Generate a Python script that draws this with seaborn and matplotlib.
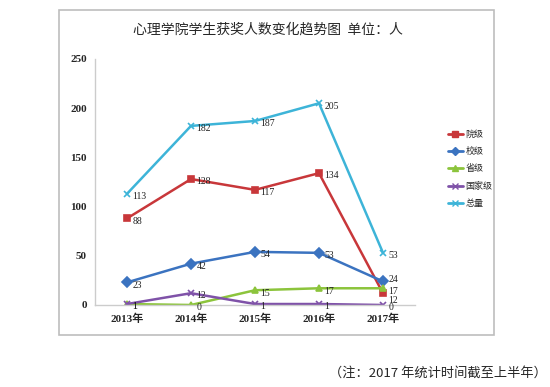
import pandas as pd
import matplotlib.pyplot as plt
import seaborn as sns
from matplotlib.patches import Rectangle
from matplotlib.lines import Line2D

years = ['2013年', '2014年', '2015年', '2016年', '2017年']
yuanji = [88, 128, 117, 134, 12]
xiaoji = [23, 42, 54, 53, 24]
shengji = [1, 0, 15, 17, 17]
guojiaji = [1, 12, 1, 1, 0]
zongliang = [113, 182, 187, 205, 53]

series = {'院级': yuanji, '校级': xiaoji, '省级': shengji, '国家级': guojiaji, '总量': zongliang}
colors = {'院级': '#C8373A', '校级': '#3B73C0', '省级': '#8CC43C', '国家级': '#7F52A8', '总量': '#3DB4D8'}
markers = {'院级': 's', '校级': 'D', '省级': '^', '国家级': 'x', '总量': 'x'}

sns.set_style('white')
serif = ['Liberation Serif', 'Noto Sans CJK SC']
cjk = ['Noto Sans CJK SC', 'DejaVu Sans']
plt.rcParams['font.family'] = cjk

fig = plt.figure(figsize=(5.5, 3.87), dpi=100)
ax = fig.add_axes([95 / 550, 1 - 305 / 387, 320 / 550, 246 / 387])

# outer frame of the chart area
fig.patches.append(Rectangle((59 / 550, 1 - 335 / 387), 435 / 550, 325 / 387,
                             transform=fig.transFigure, fill=False,
                             edgecolor='#BDBDBD', linewidth=1.2))

for name, vals in series.items():
    d = pd.DataFrame({'年份': range(len(vals)), '人数': vals})
    sns.lineplot(data=d, x='年份', y='人数', color=colors[name], marker=markers[name],
                 markersize=5, markeredgecolor=colors[name], markeredgewidth=1.2,
                 linewidth=1.8, ax=ax)

# small nudges so the crowded 2017 labels stay readable
nudge = {('校级', 4): 3, ('院级', 4): -3}
for name, vals in series.items():
    for i, v in enumerate(vals):
        dy = nudge.get((name, i), 0)
        ax.annotate(str(v), (i, v), xytext=(4, -2 + dy), textcoords='offset points',
                    fontsize=7, family=serif, color='#222222', va='center', ha='left')

ax.set_xlim(-0.5, 4.5)
ax.set_ylim(0, 250)
ax.set_xticks(range(5))
ax.set_xticklabels(years, family=serif, fontsize=8, fontweight='bold')
ax.set_yticks([0, 50, 100, 150, 200, 250])
ax.set_yticklabels(['0', '50', '100', '150', '200', '250'], family=serif,
                   fontsize=8, fontweight='bold')
ax.tick_params(axis='y', length=3, color='#BBBBBB', pad=3)
ax.tick_params(axis='x', length=0, pad=6)
ax.set_xlabel('')
ax.set_ylabel('')
for s in ['top', 'right']:
    ax.spines[s].set_visible(False)
for s in ['left', 'bottom']:
    ax.spines[s].set_color('#CCCCCC')
    ax.spines[s].set_linewidth(1)

handles = [Line2D([], [], color=colors[n], marker=markers[n], markersize=4,
                  markeredgecolor=colors[n], linewidth=2) for n in series]
fig.legend(handles, list(series.keys()), loc='upper left',
           bbox_to_anchor=(440 / 550, 1 - 122 / 387), frameon=False,
           fontsize=6.5, handlelength=1.6, handletextpad=0.3, labelspacing=0.9)

fig.text(268 / 550, 1 - 30 / 387, '心理学院学生获奖人数变化趋势图  单位：人',
         ha='center', va='center', fontsize=10)
fig.text(547 / 550, 1 - 373 / 387, '（注：2017 年统计时间截至上半年）',
         ha='right', va='center', fontsize=9.5)

fig.savefig('out.png', dpi=100)
